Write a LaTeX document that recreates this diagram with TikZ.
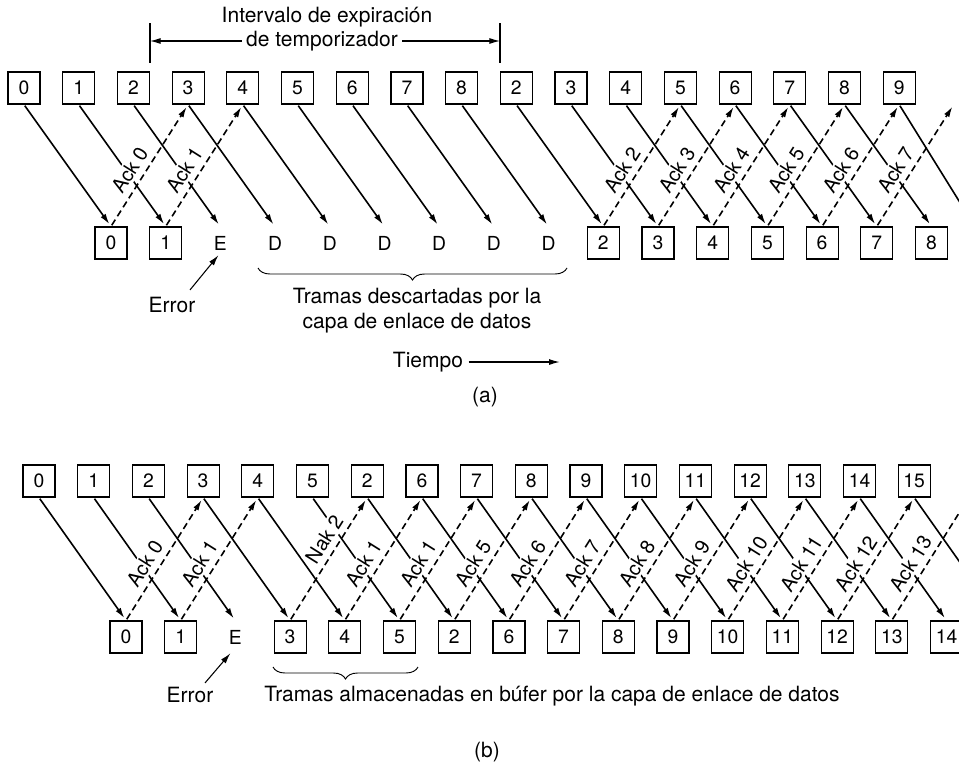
\documentclass[tikz,border=0pt]{standalone}
\usepackage{fontspec}
\setmainfont{TeX Gyre Heros}
\usetikzlibrary{arrows.meta, positioning, calc, decorations.pathreplacing}
\newcommand{\boxfont}{\fontsize{14.5}{17}\selectfont}
\newcommand{\labfont}{\fontsize{15.75}{18.75}\selectfont}
\newcommand{\ackfont}{\fontsize{15}{18}\selectfont}

\begin{document}
\begin{tikzpicture}[x=0.75pt, y=-0.75pt,
  frm/.style={draw, line width=0.9pt, minimum size=24pt, inner sep=0pt, font=\boxfont},
  lost/.style={minimum size=24pt, inner sep=0pt, font=\boxfont},
  sent/.style={-{Latex[length=8pt,width=4.5pt]}, line width=1.2pt, shorten >=2pt, shorten <=1pt},
  ack/.style={sent, dash pattern=on 5pt off 3pt},
  acklbl/.style={sloped, above=3pt, fill=white, inner sep=1.5pt, font=\ackfont},
  note/.style={font=\labfont, inner sep=0pt, align=center},
  tip/.style={-{Latex[length=8pt,width=4.5pt]}, line width=0.8pt},
  grp/.style={decorate, decoration={brace, mirror, amplitude=9pt}, line width=0.7pt}]
  \useasboundingbox (0,0) rectangle (959,764);
  \clip (0,0) rectangle (959,764);

  % (a) retroceso N
  \foreach \lbl [count=\i from 0] in {0,1,2,3,4,5,6,7,8,2,3,4,5,6,7,8,9}
    \node[frm] (ta\i) at ({24+54.7*\i},88) {\lbl};
  \node[lost] (ta17) at ({24+54.7*17},88) {};
  \foreach \i/\lbl in {0/0,1/1,9/2,10/3,11/4,12/5,13/6,14/7,15/8}
    \node[frm] (ba\i) at ({111+54.7*\i},243) {\lbl};
  \foreach \i/\lbl in {2/E,3/D,4/D,5/D,6/D,7/D,8/D}
    \node[lost] (ba\i) at ({111+54.7*\i},243) {\lbl};
  \node[lost] (ba16) at (975,243) {};
  \foreach \i in {0,...,16}
    \draw[sent] (ta\i.south) -- (ba\i.north);
  \foreach \k/\t/\p/\txt in {0/3/0.4/Ack 0, 1/4/0.4/Ack 1, 9/12/0.4/Ack 2,
      10/13/0.4/Ack 3, 11/14/0.4/Ack 4, 12/15/0.4/Ack 5, 13/16/0.4/Ack 6, 14/17/0.4/Ack 7}
    \draw[ack] (ba\k.north) -- node[acklbl, pos=\p] {\txt} (ta\t.south);

  \node[note, inner sep=3pt] (tmr1) at (327,17) {Intervalo de expiración};
  \node[note, inner sep=3pt] (tmr2) at (322,41) {de temporizador};
  \coordinate (barL) at (150,41);
  \coordinate (barR) at (500,41);
  \draw[line width=0.8pt] (barL) ++(0,-18) -- ++(0,40);
  \draw[line width=0.8pt] (barR) ++(0,-18) -- ++(0,40);
  \draw[tip] (tmr2.west) -- (barL);
  \draw[tip] (tmr2.east) -- (barR);

  \node[note] (errA) at (172,305) {Error};
  \draw[tip] ($(errA.north)+(18,-7)$) -- ($(ba2.south)+(-2,-4)$);
  \draw[grp] (258,268) -- (567,268);
  \node[note] (discA) at (417,311) {Tramas descartadas por la\\capa de enlace de datos};
  \node[note] (tmp) at (428,362) {Tiempo};
  \draw[tip] ([xshift=4pt]tmp.east) -- ++(91,0);
  \node[note] (capA) at (485,397) {(a)};

  % (b) repeticion selectiva
  \foreach \lbl [count=\i from 0] in {0,1,2,3,4,5,2,6,7,8,9,10,11,12,13,14,15}
    \node[frm] (tb\i) at ({39+54.7*\i},481) {\lbl};
  \node[lost] (tb17) at ({39+54.7*17},481) {};
  \foreach \i/\lbl in {0/0,1/1,3/3,4/4,5/5,6/2,7/6,8/7,9/8,10/9,11/10,12/11,13/12,14/13,15/14}
    \node[frm] (bb\i) at ({126+54.7*\i},637) {\lbl};
  \node[lost] (bb2) at ({126+54.7*2},637) {E};
  \node[lost] (bb16) at ({126+54.7*16},637) {};
  \foreach \i in {0,...,16}
    \draw[sent] (tb\i.south) -- (bb\i.north);
  \foreach \k/\t/\p/\txt in {0/3/0.4/Ack 0, 1/4/0.4/Ack 1, 3/6/0.6/Nak 2, 4/7/0.4/Ack 1,
      5/8/0.4/Ack 1, 6/9/0.4/Ack 5, 7/10/0.4/Ack 6, 8/11/0.4/Ack 7, 9/12/0.4/Ack 8,
      10/13/0.4/Ack 9, 11/14/0.4/Ack 10, 12/15/0.4/Ack 11, 13/16/0.4/Ack 12, 14/17/0.4/Ack 13}
    \draw[ack] (bb\k.north) -- node[acklbl, pos=\p] {\txt} (tb\t.south);

  \node[note] (errB) at (190,695) {Error};
  \draw[tip] ($(errB.north)+(15,-4)$) -- ($(bb2.south)+(-5,0)$);
  \draw[grp] (273,667) -- (418,667);
  \node[note] (bufB) at (552,696) {Tramas almacenadas en búfer por la capa de enlace de datos};
  \node[note] (capB) at (487,752) {(b)};
\end{tikzpicture}
\end{document}
